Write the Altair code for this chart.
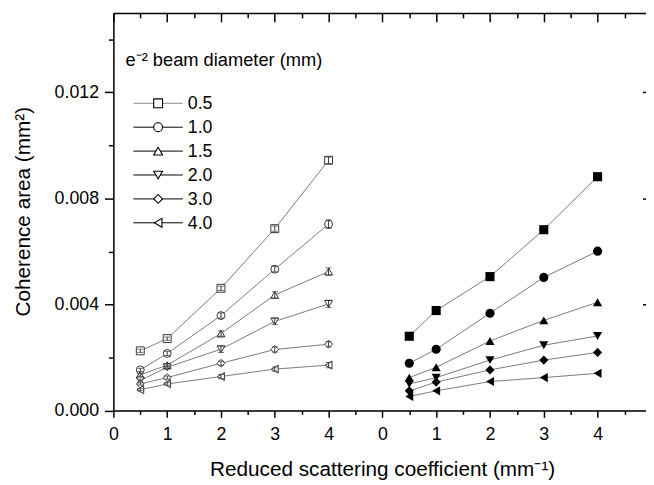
import altair as alt
import pandas as pd

# ---------------- data ----------------
mu_s = [0.5, 1, 2, 3, 4]
diameters = ["0.5", "1.0", "1.5", "2.0", "3.0", "4.0"]
shapes = ["square", "circle", "triangle-up", "triangle-down", "diamond", "triangle-left"]

# left panel (open symbols, with error bars)
left_d05 = [0.00225, 0.00271, 0.00461, 0.00686, 0.00944]
left_d10 = [0.00153, 0.00215, 0.00358, 0.00533, 0.00703]
left_d15 = [0.00134, 0.00171, 0.00290, 0.00436, 0.00524]
left_d20 = [0.00113, 0.00163, 0.00231, 0.00336, 0.00402]
left_d30 = [0.00100, 0.00124, 0.00178, 0.00230, 0.00250]
left_d40 = [0.00078, 0.00100, 0.00128, 0.00156, 0.00171]

err_d05 = [0.00006, 0.00006, 0.00008, 0.00010, 0.00012]
err_d10 = [0.00006, 0.00008, 0.00010, 0.00010, 0.00016]
err_d15 = [0.00005, 0.00006, 0.00010, 0.00012, 0.00014]
err_d20 = [0.00005, 0.00008, 0.00012, 0.00012, 0.00014]
err_d30 = [0.00004, 0.00006, 0.00008, 0.00010, 0.00010]
err_d40 = [0.00004, 0.00005, 0.00008, 0.00008, 0.00010]

# right panel (filled symbols)
right_d05 = [0.00280, 0.00377, 0.00505, 0.00682, 0.00882]
right_d10 = [0.00178, 0.00231, 0.00367, 0.00502, 0.00601]
right_d15 = [0.00124, 0.00163, 0.00262, 0.00340, 0.00408]
right_d20 = [0.00100, 0.00124, 0.00190, 0.00246, 0.00281]
right_d30 = [0.00074, 0.00107, 0.00153, 0.00190, 0.00219]
right_d40 = [0.00053, 0.00074, 0.00109, 0.00124, 0.00140]

y_major = [0.0, 0.004, 0.008, 0.012]
y_minor = [0.002, 0.006, 0.010, 0.014]
x_major = list(range(0, 10))
x_minor = [i + 0.5 for i in range(0, 10)]

legend_title = "e\u207b\u00b2 beam diameter (mm)"
y_title = "Coherence area (mm\u00b2)"
x_title = "Reduced scattering coefficient (mm\u207b\u00b9)"

left_vals = [left_d05, left_d10, left_d15, left_d20, left_d30, left_d40]
left_errs = [err_d05, err_d10, err_d15, err_d20, err_d30, err_d40]
right_vals = [right_d05, right_d10, right_d15, right_d20, right_d30, right_d40]

rows = []
for d, vals, errs in zip(diameters, left_vals, left_errs):
    for m, v, e in zip(mu_s, vals, errs):
        rows.append({"panel": "a", "series": d, "mu": m, "value": v, "err": e})
for d, vals in zip(diameters, right_vals):
    for m, v in zip(mu_s, vals):
        rows.append({"panel": "b", "series": d, "mu": m, "value": v, "err": 0.0})
df = pd.DataFrame(rows)
df["lo"] = df["value"] - df["err"]
df["hi"] = df["value"] + df["err"]
df["key"] = df["panel"] + df["series"]
df_a = df[df.panel == "a"]
df_b = df[df.panel == "b"]

# ---------------- layout ----------------
FONT = "Liberation Sans"
W = 539.3
H = 402.5
xscale = alt.Scale(domain=[0, 9.9], nice=False, zero=False)
yscale = alt.Scale(domain=[0, 0.015], nice=False, zero=False)
POS = "datum.mu + (datum.panel == 'b' ? 5 : 0)"


def xenc(axis=None):
    return alt.X("pos:Q", scale=xscale, axis=axis)


def yenc(field="value", axis=None):
    return alt.Y(f"{field}:Q", scale=yscale, axis=axis)


common_ax = dict(grid=False, title=None, domainColor="black", tickColor="black",
                 domainWidth=1.5, tickWidth=1.5, labelColor="black", labelFont=FONT)

ax_bottom_major = alt.Axis(orient="bottom", values=x_major, tickSize=7, labelFontSize=18,
                           labelPadding=8, labelFlush=False, labelOverlap=False,
                           labelExpr="datum.value >= 5 ? format(datum.value - 5, 'd') : format(datum.value, 'd')",
                           **common_ax)
ax_bottom_minor = alt.Axis(orient="bottom", values=x_minor, tickSize=4, labels=False,
                           domain=False, **common_ax)
ax_top_domain = alt.Axis(orient="top", ticks=False, labels=False, domain=True, **common_ax)
ax_top_major = alt.Axis(orient="top", offset=-9, values=x_major, tickSize=9, labels=False,
                        domain=False, **common_ax)
ax_top_minor = alt.Axis(orient="top", offset=-5, values=x_minor, tickSize=5, labels=False,
                        domain=False, **common_ax)
ay_left_major = alt.Axis(orient="left", values=y_major, tickSize=9, format=".3f",
                         labelFontSize=18, labelPadding=6, labelOverlap=False, **common_ax)
ay_left_minor = alt.Axis(orient="left", values=y_minor, tickSize=5, labels=False,
                         domain=False, **common_ax)
ay_right = alt.Axis(orient="right", offset=-3.5, values=[0.004, 0.008, 0.012], tickSize=3.5,
                    labels=False, domain=False, **common_ax)


def axis_layer(xa, ya):
    return alt.Chart(df).transform_calculate(pos=POS).mark_point(opacity=0).encode(
        x=xenc(xa), y=yenc("value", ya))


axes = [
    axis_layer(ax_bottom_major, ay_left_major),
    axis_layer(ax_bottom_minor, ay_left_minor),
    axis_layer(ax_top_domain, ay_right),
    axis_layer(ax_top_major, None),
    axis_layer(ax_top_minor, None),
]

shape_enc = alt.Shape("series:N", scale=alt.Scale(domain=diameters, range=shapes), legend=None)

lines = alt.Chart(df).transform_calculate(pos=POS).mark_line(
    color="#7a7a7a", strokeWidth=1).encode(
    x=xenc(), y=yenc(), detail="key:N", order="mu:Q")

pts_a = alt.Chart(df_a).transform_calculate(pos=POS).mark_point(
    filled=True, fill="white", stroke="#333333", strokeWidth=1, size=64, opacity=1).encode(
    x=xenc(), y=yenc(), shape=shape_enc)

err_rule = alt.Chart(df_a).transform_calculate(pos=POS).mark_rule(
    color="#333333", strokeWidth=1).encode(x=xenc(), y=yenc("lo"), y2="hi:Q")
err_lo = alt.Chart(df_a).transform_calculate(pos=POS).mark_tick(
    orient="horizontal", size=6, thickness=1, color="#333333").encode(x=xenc(), y=yenc("lo"))
err_hi = alt.Chart(df_a).transform_calculate(pos=POS).mark_tick(
    orient="horizontal", size=6, thickness=1, color="#333333").encode(x=xenc(), y=yenc("hi"))

pts_b = alt.Chart(df_b).transform_calculate(pos=POS).mark_point(
    filled=True, color="black", size=85, opacity=1).encode(
    x=xenc(), y=yenc(), shape=shape_enc)

# ---------------- manual legend ----------------
legend_layers = []
for i, (d, shp) in enumerate(zip(diameters, shapes)):
    yy = 91.5 + 24.2 * i
    ldf = pd.DataFrame({"series": [d]})
    lcol = "#8a8a8a" if i == 0 else "black"
    legend_layers.append(alt.Chart(ldf).mark_rule(color=lcol, strokeWidth=1).encode(
        x=alt.value(20.3), x2=alt.value(70.3), y=alt.value(yy)))
    legend_layers.append(alt.Chart(ldf).mark_point(
        shape=shp, filled=True, fill="white", stroke="black", strokeWidth=1.1, size=80,
        opacity=1).encode(x=alt.value(45.3), y=alt.value(yy)))
    legend_layers.append(alt.Chart(ldf).mark_text(
        align="left", baseline="middle", font=FONT, fontSize=18, color="black").encode(
        x=alt.value(75.3), y=alt.value(yy + 1), text="series:N"))

legend_head = alt.Chart(pd.DataFrame({"t": [legend_title]})).mark_text(
    align="left", baseline="alphabetic", font=FONT, fontSize=18.5, color="black").encode(
    x=alt.value(12.3), y=alt.value(54), text="t:N")

ytitle = alt.Chart(pd.DataFrame({"t": [y_title]})).mark_text(
    align="center", baseline="middle", angle=270, font=FONT, fontSize=21, color="black").encode(
    x=alt.value(-90.7), y=alt.value(201.25), text="t:N")

xtitle = alt.Chart(pd.DataFrame({"t": [x_title]})).mark_text(
    align="center", baseline="alphabetic", font=FONT, fontSize=21, color="black").encode(
    x=alt.value(272.6), y=alt.value(469), text="t:N")

chart = alt.layer(
    *axes, lines, pts_a, err_rule, err_lo, err_hi, pts_b, *legend_layers,
    legend_head, ytitle, xtitle
).resolve_axis(x="independent", y="independent").properties(
    width=W, height=H, autosize=alt.AutoSizeParams(type="none"),
    padding={"left": 106.7, "top": 2, "right": 0, "bottom": 72},
).configure_view(stroke=None).configure(font=FONT)

chart.save("out.html", embed_options={"renderer": "svg", "actions": False})
